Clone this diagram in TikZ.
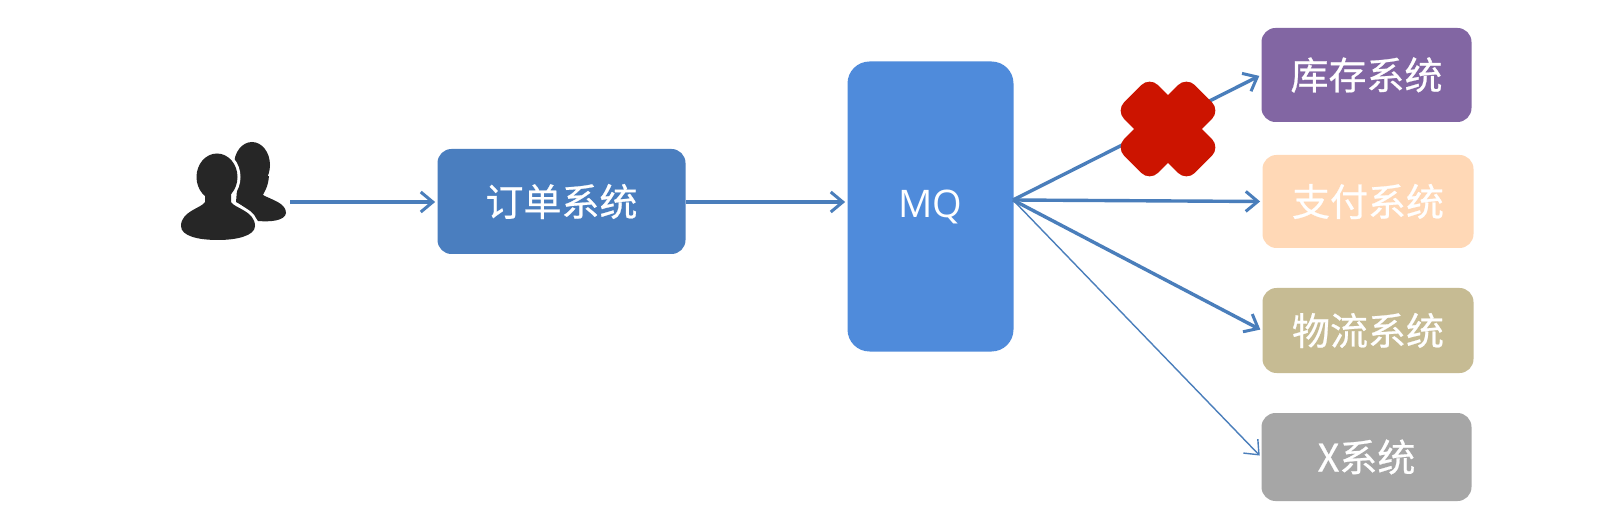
\documentclass[tikz,border=0pt]{standalone}
\usepackage{fontspec}
\setmainfont{Open Sans}
\newfontfamily\cjk[FakeBold=0.6]{Noto Sans CJK SC}
\usetikzlibrary{arrows.meta,positioning}
\definecolor{linkblue}{HTML}{4A7EBB}
\definecolor{orderblue}{HTML}{4A7EBF}
\definecolor{mqblue}{HTML}{4F8BDB}
\definecolor{stockpurple}{HTML}{8266A3}
\definecolor{paypeach}{HTML}{FFD8B6}
\definecolor{shipkhaki}{HTML}{C6BB93}
\definecolor{xgray}{HTML}{A6A6A6}
\definecolor{crossred}{HTML}{CC1400}
\definecolor{iconblack}{HTML}{262626}
\tikzset{
  x=0.5pt,y=-0.5pt,
  sysbox/.style={inner sep=0pt,text=white,font=\fontsize{19pt}{22pt}\cjk,rounded corners=7pt},
  link/.style={draw=linkblue,line width=1.7pt,-{Straight Barb[length=6pt,width=10pt,line width=1.5pt]},shorten >=1pt},
  thinlink/.style={link,line width=0.7pt,-{Straight Barb[length=6pt,width=10pt,line width=.7pt]}},
  iconpart/.style={fill=iconblack},
}
\begin{document}
\begin{tikzpicture}
\useasboundingbox[fill=white] (0,0) rectangle (1617,513);
% people icon: back figure
\fill[iconpart] (252,165) ellipse [x radius=18,y radius=23];
\fill[iconpart] (238,178) -- (269,176) .. controls (268,188) and (264,192) .. (263,195)
  .. controls (272,200) and (286,203) .. (286,213) .. controls (285,221) and (270,222) .. (258,221)
  .. controls (250,212) and (244,206) .. (236,202) -- cycle;
% white halo round the front figure
\path[draw=white,line width=3pt,fill=white] (217,177) ellipse [x radius=20.5,y radius=23.5];
\path[draw=white,line width=3pt,fill=white] (205,190) -- (231,190) -- (231,202)
  .. controls (234,208) and (255,211) .. (255,226) .. controls (255,236) and (236,240) .. (218,240)
  .. controls (198,240) and (181,236) .. (181,226) .. controls (181,211) and (202,208) .. (205,202) -- cycle;
% front figure
\fill[iconpart] (217,177) ellipse [x radius=20.5,y radius=23.5];
\fill[iconpart] (205,190) -- (231,190) -- (231,202)
  .. controls (234,208) and (255,211) .. (255,226) .. controls (255,236) and (236,240) .. (218,240)
  .. controls (198,240) and (181,236) .. (181,226) .. controls (181,211) and (202,208) .. (205,202) -- cycle;
\coordinate (user) at (290,202);
% boxes
\node[sysbox,fill=orderblue,minimum width=124pt,minimum height=52.5pt] (order) at (561.5,201.5) {订单系统};
\node[sysbox,fill=mqblue,minimum width=83pt,minimum height=145pt,rounded corners=11pt,font=\fontsize{19pt}{22pt}\selectfont] (mq) at (930.5,206.5) {MQ};
\node[sysbox,fill=stockpurple,minimum width=105pt,minimum height=47pt] (stock) at (1366.5,75) {库存系统};
\node[sysbox,fill=paypeach,minimum width=105.5pt,minimum height=46.5pt] (pay) at (1368,201.5) {支付系统};
\node[sysbox,fill=shipkhaki,minimum width=105.5pt,minimum height=42.5pt] (ship) at (1368,330.5) {物流系统};
\node[sysbox,fill=xgray,minimum width=105pt,minimum height=44pt] (xsys) at (1366.5,457) {X系统};
\coordinate (hub) at (1013,200);
% connectors
\draw[link] (user) -- (user -| order.west);
\draw[link] (order.east |- user) -- (mq.west |- user);
\draw[link] (hub) -- (stock.west);
\draw[link] (hub) -- (pay.west);
\draw[link] (hub) -- (ship.west);
\draw[thinlink] (hub) -- (xsys.west);
% red cross
\fill[crossred,rotate around={45:(1168,129)},rounded corners=6pt] (1118,105) rectangle (1218,153);
\fill[crossred,rotate around={-45:(1168,129)},rounded corners=6pt] (1118,105) rectangle (1218,153);
\end{tikzpicture}
\end{document}
